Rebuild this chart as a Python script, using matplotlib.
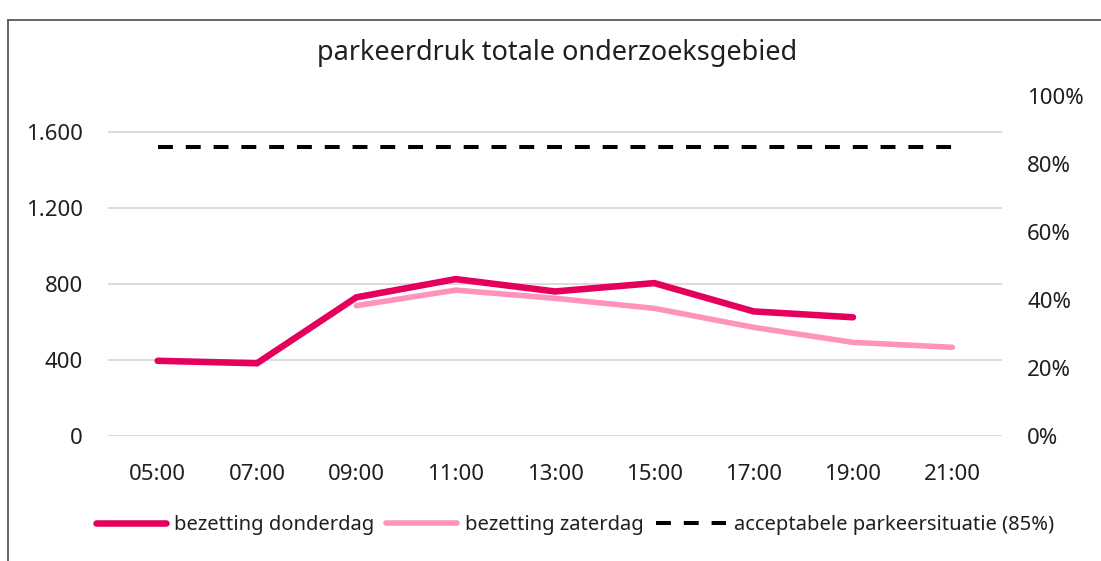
import numpy as np
import matplotlib.pyplot as plt
from matplotlib.lines import Line2D
from matplotlib.ticker import FuncFormatter, PercentFormatter

plt.rcParams['font.family'] = ['Noto Sans', 'DejaVu Sans']

# tijdstippen en bezetting
tijden = ["05:00", "07:00", "09:00", "11:00", "13:00", "15:00", "17:00", "19:00", "21:00"]
donderdag = [396, 383, 730, 826, 761, 805, 656, 625, np.nan]
zaterdag = [np.nan, np.nan, 686, 768, 725, 672, 572, 493, 467]
capaciteit = 1790
norm = 0.85
links_ticks = [0, 400, 800, 1200, 1600]
rechts_ticks = [0, 0.2, 0.4, 0.6, 0.8, 1.0]

kleur_do = "#E4005C"
kleur_za = "#FF93BC"
tekst = "#1F1F1F"

fig = plt.figure(figsize=(11.01, 5.61), dpi=100)
ax = fig.add_axes([108 / 1101, 1 - 436 / 561, 894 / 1101, 340 / 561])
ax2 = ax.twinx()

x = np.arange(len(tijden))
ax.plot(x, donderdag, color=kleur_do, lw=4.7, solid_capstyle='round',
        solid_joinstyle='miter', label="bezetting donderdag", zorder=3)
ax.plot(x, zaterdag, color=kleur_za, lw=4.0, solid_capstyle='round',
        solid_joinstyle='miter', label="bezetting zaterdag", zorder=2)
ax.plot(x, [norm * capaciteit] * len(x), color="black", lw=2.9,
        dashes=(3.7, 3.2), label="acceptabele parkeersituatie (85%)", zorder=2)

ax.set_xlim(-0.5, len(tijden) - 0.5)
ax.set_ylim(0, capaciteit)
ax.set_xticks(x)
ax.set_xticklabels(tijden)
ax.set_yticks(links_ticks)
ax.yaxis.set_major_formatter(FuncFormatter(lambda v, p: f"{int(v):,}".replace(",", ".")))
ax.grid(axis='y', color="#D9D9D9", lw=1.3)
ax.set_axisbelow(True)

ax2.set_ylim(0, 1)
ax2.set_yticks(rechts_ticks)
ax2.yaxis.set_major_formatter(PercentFormatter(1.0, decimals=0))

for a in (ax, ax2):
    for s in a.spines.values():
        s.set_visible(False)
    a.tick_params(length=0, labelsize=16, colors=tekst)
ax.tick_params(axis='x', pad=20)
ax.tick_params(axis='y', pad=18)
ax2.tick_params(axis='y', pad=18)

fig.text(557 / 1101, 1 - 53 / 561, "parkeerdruk totale onderzoeksgebied",
         ha='center', va='center', fontsize=19.5, color=tekst)

h, l = ax.get_legend_handles_labels()
fig.legend(h, l, loc='center', bbox_to_anchor=(575 / 1101, 1 - 525 / 561), ncol=3,
           frameon=False, fontsize=14.5, handlelength=3.5, handletextpad=0.4,
           columnspacing=0.6, labelcolor=tekst)

# kader om de grafiek
fig.add_artist(Line2D([8 / 1101, 1], [1 - 20 / 561, 1 - 20 / 561], color="#595959", lw=1.3))
fig.add_artist(Line2D([8 / 1101, 8 / 1101], [0, 1 - 20 / 561], color="#595959", lw=1.3))

fig.savefig("out.png", dpi=100)
